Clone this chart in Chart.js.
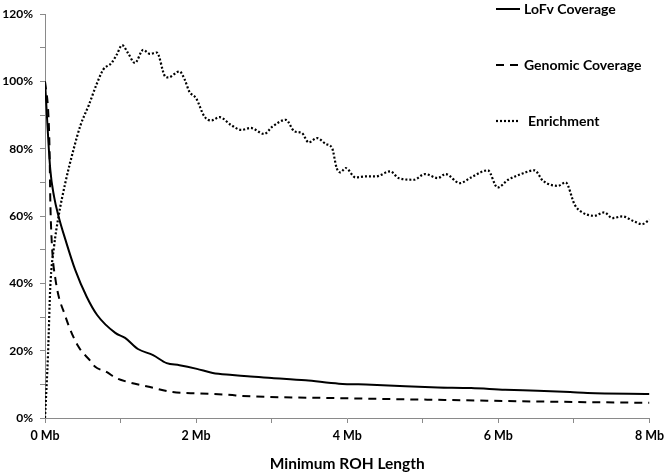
<!DOCTYPE html>
<html>
<head>
<meta charset="utf-8">
<script src="https://cdn.jsdelivr.net/npm/chart.js@4/dist/chart.umd.min.js"></script>
<style>
  html, body { margin: 0; padding: 0; background: #fff; }
  #wrap { width: 669px; height: 475px; }
</style>
</head>
<body>
<div id="wrap"><canvas id="chart"></canvas></div>
<script>
// Series values (x in Mb, y in %).
const lofvX = [0, 0.07, 0.12, 0.18, 0.27, 0.40, 0.55, 0.69, 0.93, 1.06, 1.23, 1.43, 1.61, 1.78, 2.01, 2.22, 2.48, 2.68, 3.0, 3.45, 3.89, 4.32, 4.77, 5.2, 5.64, 6.09, 6.52, 6.95, 7.18, 8.0];
const lofvY = [100, 73.8, 65.8, 59.9, 53, 44, 36.1, 30.6, 25.3, 23.8, 20.5, 18.7, 16.3, 15.7, 14.6, 13.4, 12.8, 12.4, 11.9, 11.2, 10.2, 9.9, 9.4, 9.1, 8.9, 8.4, 8.1, 7.7, 7.4, 7.1];

const genomicX = [0, 0.045, 0.06, 0.07, 0.09, 0.14, 0.27, 0.44, 0.6, 0.66, 0.82, 0.93, 1.08, 1.39, 1.69, 2.05, 2.48, 2.58, 3.89, 5.2, 6.52, 8.0];
const genomicY = [100, 90, 80, 65, 52, 41, 30.2, 21.3, 17, 15.3, 13.6, 12, 10.8, 9.2, 7.7, 7.3, 6.8, 6.6, 5.9, 5.4, 4.9, 4.5];

const enrichX = [0, 0.04, 0.07, 0.12, 0.18, 0.27, 0.38, 0.47, 0.58, 0.68, 0.77, 0.88, 0.95, 1.02, 1.10, 1.19, 1.30, 1.39, 1.48, 1.59, 1.63, 1.78, 1.85, 1.91, 2.0, 2.11, 2.2, 2.31, 2.46, 2.6, 2.72, 2.9, 3.01, 3.19, 3.3, 3.4, 3.49, 3.6, 3.72, 3.8, 3.86, 3.91, 3.98, 4.11, 4.24, 4.38, 4.57, 4.68, 4.88, 5.03, 5.2, 5.3, 5.49, 5.64, 5.86, 5.99, 6.13, 6.3, 6.48, 6.59, 6.79, 6.89, 7.01, 7.09, 7.27, 7.4, 7.51, 7.64, 7.8, 7.9, 8.0];
const enrichY = [0, 19, 39, 51, 60, 70, 80, 87, 93, 99, 103.5, 105.5, 108, 110.8, 108.4, 105.5, 109.4, 108.2, 108.6, 101.5, 101.2, 103, 100.5, 97, 95, 89.6, 88.4, 89.4, 87.1, 85.6, 86.2, 84.4, 86.6, 88.6, 85.2, 84.7, 81.9, 83.2, 81.4, 80.2, 74.3, 73, 74.3, 71.5, 71.8, 71.8, 73.3, 71.3, 70.8, 72.5, 71.3, 72.5, 69.8, 71.5, 73.6, 68.5, 70.8, 72.5, 73.6, 70.5, 69, 70, 63.4, 61.4, 60.1, 61.1, 59.4, 59.9, 58.4, 57.6, 58.9];

const seriesLabels = ['LoFv Coverage', 'Genomic Coverage', 'Enrichment'];

const toPoints = (xs, ys) => xs.map((x, i) => ({x, y: ys[i]}));

const FONT = 'Lato, "Open Sans", sans-serif';
const AXIS_GREY = '#8a8a8a';

// Legend drawn over the plot area, one item per row.
const overlayLegend = {
  id: 'overlayLegend',
  afterDraw: (chart, args, opts) => {
    const {ctx} = chart;
    ctx.save();
    ctx.font = 'bold 14px ' + FONT;
    ctx.fillStyle = '#000';
    ctx.textBaseline = 'middle';
    chart.data.datasets.forEach((ds, i) => {
      const y = opts.top + i * opts.rowGap;
      ctx.beginPath();
      ctx.strokeStyle = ds.borderColor;
      ctx.lineWidth = ds.borderWidth;
      ctx.setLineDash(ds.borderDash || []);
      ctx.moveTo(opts.left, y);
      ctx.lineTo(opts.left + opts.sample, y);
      ctx.stroke();
      ctx.setLineDash([]);
      ctx.fillText(ds.label, opts.left + opts.sample + opts.gap + (i === 2 ? 4 : 0), y);
    });
    ctx.restore();
  }
};

new Chart(document.getElementById('chart').getContext('2d'), {
  type: 'line',
  data: {
    datasets: [
      {label: seriesLabels[0], data: toPoints(lofvX, lofvY), borderColor: '#000', borderWidth: 2, borderDash: []},
      {label: seriesLabels[1], data: toPoints(genomicX, genomicY), borderColor: '#000', borderWidth: 2, borderDash: [8, 6]},
      {label: seriesLabels[2], data: toPoints(enrichX, enrichY), borderColor: '#000', borderWidth: 2.2, borderDash: [2, 2]},
    ],
  },
  options: {
    responsive: true,
    maintainAspectRatio: false,
    animation: false,
    elements: {
      point: {radius: 0},
      line: {tension: 0.3, cubicInterpolationMode: 'monotone'},
    },
    layout: {padding: {top: 14, right: 17, left: 0, bottom: 0}},
    plugins: {
      legend: {display: false},
      tooltip: {enabled: false},
      overlayLegend: {left: 496, top: 9, rowGap: 56, sample: 24, gap: 4},
    },
    scales: {
      x: {
        type: 'linear',
        min: 0,
        max: 8,
        border: {display: true, color: AXIS_GREY},
        grid: {drawOnChartArea: false, drawTicks: true, tickLength: 5, color: AXIS_GREY},
        ticks: {
          stepSize: 1,
          padding: 5,
          color: '#000',
          font: {family: FONT, size: 12.5, weight: 'bold'},
          callback: (v) => (v % 2 === 0 ? v + ' Mb' : ''),
        },
        title: {
          display: true,
          text: 'Minimum ROH Length',
          color: '#000',
          font: {family: FONT, size: 15.5, weight: 'bold'},
          padding: {top: 8, bottom: 2},
        },
        afterFit: (scale) => { scale.height = 57; },
      },
      y: {
        type: 'linear',
        min: 0,
        max: 120,
        border: {display: true, color: AXIS_GREY},
        grid: {drawOnChartArea: false, drawTicks: true, tickLength: 5, color: AXIS_GREY},
        ticks: {
          stepSize: 10,
          padding: 7,
          color: '#000',
          font: {family: FONT, size: 12, weight: 'bold'},
          callback: (v) => (v % 20 === 0 ? v + '%' : ''),
        },
        afterFit: (scale) => { scale.width = 45; },
      },
    },
  },
  plugins: [overlayLegend],
});
</script>
</body>
</html>
